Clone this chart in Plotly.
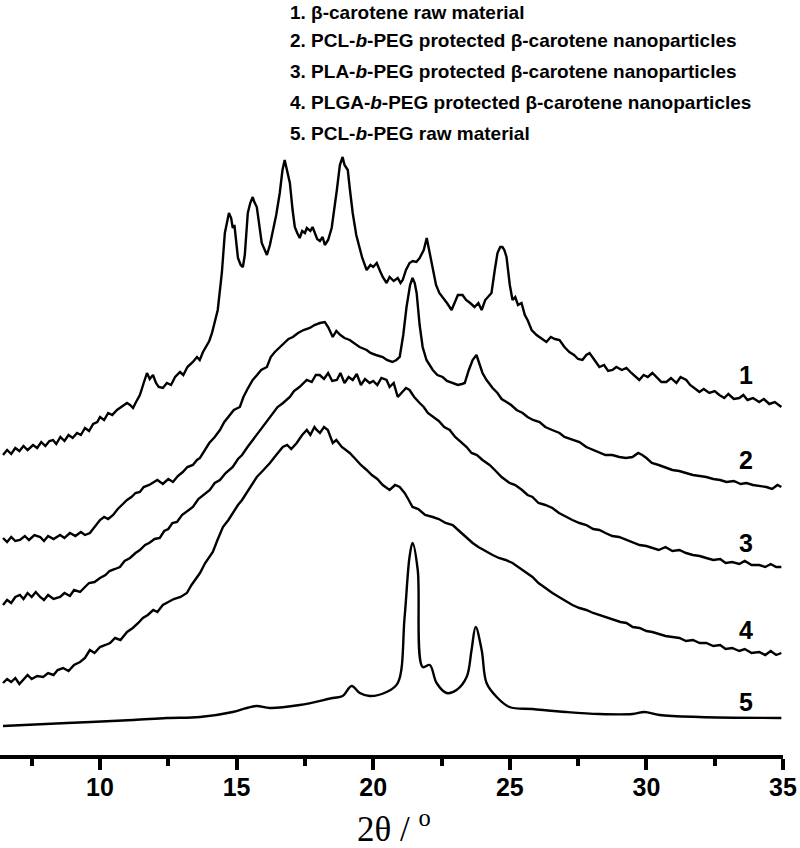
import plotly.graph_objects as go

# Each pattern: (2-theta in degrees, intensity in a.u., curves stacked with offsets)
pattern1 = [
    (6.45, 300), (6.6, 305), (6.75, 301), (6.9, 307), (7.05, 304), (7.2, 309), (7.35, 305), (7.55, 310),
    (7.7, 307), (7.85, 313), (8.0, 309), (8.15, 314), (8.28, 315), (8.4, 311), (8.55, 318), (8.7, 314),
    (8.85, 320), (9.0, 317), (9.16, 322), (9.3, 320), (9.45, 327), (9.6, 324), (9.75, 331), (9.9, 333),
    (10.0, 338), (10.15, 335), (10.3, 342), (10.45, 340), (10.62, 345), (10.8, 348), (10.99, 352),
    (11.1, 350), (11.21, 347), (11.3, 352), (11.46, 360), (11.6, 372), (11.72, 382), (11.82, 376),
    (11.94, 380), (12.05, 372), (12.15, 368), (12.30, 367), (12.45, 372), (12.6, 370), (12.75, 378),
    (12.93, 383), (13.05, 380), (13.2, 388), (13.40, 393), (13.55, 398), (13.65, 395), (13.77, 403),
    (13.9, 410), (14.0, 414), (14.10, 422), (14.2, 432), (14.31, 445), (14.46, 482), (14.57, 522),
    (14.72, 542), (14.8, 537), (14.86, 527), (14.92, 530), (15.05, 497), (15.15, 490), (15.23, 488),
    (15.3, 500), (15.41, 542), (15.5, 552), (15.59, 558), (15.65, 553), (15.74, 548), (15.82, 530),
    (15.92, 512), (16.0, 507), (16.11, 500), (16.22, 510), (16.33, 525), (16.45, 540), (16.58, 562),
    (16.68, 585), (16.76, 595), (16.85, 585), (16.95, 572), (17.05, 545), (17.13, 528), (17.22, 522),
    (17.31, 517), (17.4, 524), (17.5, 522), (17.57, 527), (17.7, 524), (17.78, 528), (17.86, 523),
    (17.95, 516), (18.05, 514), (18.15, 518), (18.23, 510), (18.35, 515), (18.48, 527), (18.58, 545),
    (18.67, 565), (18.78, 590), (18.88, 598), (18.95, 590), (19.07, 585), (19.15, 565), (19.25, 542),
    (19.38, 520), (19.51, 505), (19.6, 497), (19.76, 485), (19.9, 490), (20.0, 488), (20.13, 492),
    (20.25, 484), (20.35, 478), (20.49, 472), (20.6, 478), (20.75, 474), (20.90, 477), (21.0, 472),
    (21.08, 475), (21.2, 485), (21.33, 492), (21.45, 494), (21.58, 493), (21.70, 497), (21.85, 505),
    (21.96, 517), (22.05, 505), (22.18, 485), (22.3, 470), (22.42, 462), (22.54, 458), (22.7, 452),
    (22.87, 445), (22.98, 452), (23.1, 460), (23.27, 460), (23.4, 455), (23.55, 452), (23.71, 448),
    (23.85, 452), (23.97, 445), (24.1, 455), (24.2, 458), (24.33, 462), (24.45, 485), (24.55, 502),
    (24.65, 508), (24.73, 508), (24.8, 505), (24.88, 498), (25.0, 470), (25.10, 455), (25.2, 458),
    (25.3, 450), (25.43, 452), (25.55, 440), (25.65, 435), (25.8, 425), (25.98, 420), (26.15, 417),
    (26.34, 413), (26.5, 418), (26.65, 416), (26.82, 415), (27.0, 408), (27.18, 403), (27.35, 400),
    (27.5, 396), (27.66, 395), (27.8, 400), (27.92, 402), (28.1, 395), (28.28, 388), (28.45, 390),
    (28.6, 384), (28.76, 385), (28.9, 388), (29.1, 385), (29.27, 387), (29.45, 382), (29.6, 378),
    (29.74, 375), (29.9, 380), (30.05, 378), (30.22, 382), (30.4, 377), (30.55, 373), (30.73, 373),
    (30.9, 377), (31.1, 372), (31.25, 378), (31.46, 375), (31.6, 370), (31.8, 366), (31.94, 363),
    (32.1, 366), (32.3, 362), (32.5, 364), (32.67, 360), (32.85, 357), (33.0, 361), (33.2, 356),
    (33.40, 357), (33.55, 360), (33.7, 355), (33.9, 357), (34.13, 353), (34.3, 356), (34.5, 351),
    (34.7, 353), (34.94, 348),
]

pattern2 = [
    (6.45, 217), (6.6, 213), (6.75, 218), (6.9, 214), (7.07, 215), (7.25, 219), (7.4, 215), (7.6, 220),
    (7.81, 218), (7.95, 214), (8.1, 219), (8.3, 216), (8.54, 220), (8.7, 217), (8.9, 222), (9.1, 219),
    (9.3, 223), (9.45, 220), (9.63, 222), (9.8, 228), (10.0, 235), (10.15, 238), (10.3, 236), (10.48, 240),
    (10.65, 246), (10.8, 250), (10.99, 255), (11.15, 258), (11.3, 262), (11.46, 263), (11.6, 268),
    (11.8, 270), (11.94, 272), (12.1, 275), (12.3, 271), (12.5, 276), (12.67, 273), (12.85, 279),
    (13.03, 283), (13.2, 288), (13.4, 290), (13.55, 295), (13.66, 297), (13.85, 305), (14.0, 312),
    (14.2, 318), (14.39, 325), (14.55, 333), (14.75, 340), (14.9, 345), (15.12, 348), (15.25, 358),
    (15.4, 366), (15.59, 375), (15.75, 380), (15.9, 385), (16.11, 388), (16.25, 398), (16.4, 403),
    (16.58, 408), (16.75, 412), (16.9, 416), (17.06, 418), (17.25, 422), (17.45, 425), (17.68, 427),
    (17.85, 430), (18.05, 432), (18.23, 433), (18.35, 428), (18.52, 418), (18.65, 424), (18.8, 420),
    (18.95, 417), (19.14, 415), (19.3, 412), (19.5, 408), (19.76, 405), (19.9, 402), (20.1, 400),
    (20.35, 398), (20.5, 395), (20.7, 393), (20.85, 395), (20.97, 398), (21.1, 420), (21.22, 448),
    (21.35, 470), (21.44, 477), (21.52, 472), (21.59, 462), (21.7, 430), (21.81, 408), (21.95, 395),
    (22.05, 390), (22.18, 385), (22.35, 380), (22.54, 378), (22.7, 374), (22.91, 372), (23.1, 370),
    (23.25, 371), (23.35, 372), (23.5, 385), (23.64, 395), (23.78, 400), (23.9, 390), (24.0, 382),
    (24.15, 375), (24.37, 367), (24.55, 362), (24.7, 356), (24.88, 353), (25.05, 350), (25.25, 345),
    (25.47, 342), (25.65, 338), (25.85, 335), (26.09, 333), (26.3, 328), (26.55, 325), (26.82, 322),
    (27.0, 318), (27.25, 316), (27.55, 313), (27.8, 308), (28.05, 305), (28.28, 303), (28.5, 300),
    (28.75, 300), (29.01, 298), (29.25, 297), (29.49, 298), (29.7, 302), (29.85, 300), (30.0, 297),
    (30.2, 292), (30.45, 290), (30.73, 287), (30.95, 285), (31.2, 284), (31.46, 282), (31.7, 280),
    (31.95, 279), (32.19, 278), (32.45, 276), (32.7, 275), (32.93, 273), (33.2, 274), (33.45, 271),
    (33.66, 272), (33.9, 270), (34.15, 269), (34.39, 268), (34.6, 266), (34.8, 270), (34.94, 268),
]

pattern3 = [
    (6.45, 150), (6.6, 155), (6.75, 152), (6.9, 158), (7.07, 160), (7.2, 156), (7.35, 162), (7.5, 158),
    (7.65, 163), (7.81, 158), (7.95, 155), (8.1, 160), (8.3, 156), (8.54, 158), (8.7, 162), (8.9, 159),
    (9.05, 165), (9.27, 163), (9.45, 168), (9.6, 172), (9.8, 173), (10.0, 177), (10.2, 180), (10.35, 184),
    (10.55, 186), (10.73, 188), (10.9, 194), (11.1, 197), (11.3, 202), (11.46, 205), (11.65, 210),
    (11.8, 212), (12.0, 216), (12.19, 217), (12.35, 224), (12.5, 226), (12.65, 232), (12.82, 233),
    (13.0, 240), (13.2, 244), (13.40, 248), (13.6, 256), (13.8, 260), (14.02, 265), (14.2, 272),
    (14.39, 275), (14.6, 282), (14.86, 288), (15.05, 296), (15.2, 300), (15.4, 308), (15.59, 315),
    (15.8, 322), (16.0, 330), (16.15, 335), (16.33, 342), (16.5, 348), (16.7, 352), (16.95, 358),
    (17.1, 364), (17.3, 368), (17.57, 375), (17.75, 373), (17.9, 380), (18.04, 380), (18.2, 376),
    (18.35, 382), (18.5, 374), (18.67, 375), (18.8, 382), (18.95, 372), (19.1, 378), (19.25, 375),
    (19.4, 381), (19.55, 370), (19.7, 376), (19.87, 372), (20.0, 374), (20.15, 370), (20.3, 377),
    (20.49, 375), (20.6, 368), (20.75, 372), (20.90, 358), (21.05, 362), (21.2, 367), (21.33, 365),
    (21.5, 358), (21.70, 352), (21.85, 348), (22.0, 342), (22.18, 338), (22.4, 334), (22.6, 328),
    (22.80, 325), (23.0, 318), (23.2, 313), (23.42, 308), (23.6, 302), (23.8, 300), (24.0, 295),
    (24.26, 290), (24.45, 285), (24.7, 278), (24.99, 272), (25.2, 270), (25.45, 265), (25.65, 260),
    (25.83, 258), (26.05, 252), (26.3, 250), (26.56, 247), (26.8, 242), (27.05, 238), (27.29, 235),
    (27.55, 232), (27.8, 230), (28.05, 226), (28.28, 225), (28.5, 222), (28.75, 219), (29.0, 218),
    (29.27, 215), (29.5, 213), (29.75, 210), (30.0, 209), (30.22, 207), (30.45, 205), (30.7, 208),
    (30.95, 204), (31.21, 205), (31.45, 202), (31.7, 200), (31.95, 199), (32.19, 197), (32.45, 195),
    (32.7, 196), (32.9, 192), (33.14, 193), (33.4, 191), (33.6, 194), (33.85, 190), (34.13, 190),
    (34.35, 188), (34.55, 191), (34.75, 188), (34.94, 188),
]

pattern4 = [
    (6.45, 72), (6.6, 76), (6.75, 73), (6.9, 77), (7.05, 71), (7.18, 75), (7.35, 80), (7.5, 76),
    (7.7, 79), (7.92, 78), (8.1, 82), (8.3, 80), (8.45, 85), (8.65, 87), (8.85, 84), (9.05, 90),
    (9.27, 93), (9.45, 97), (9.63, 105), (9.8, 102), (10.0, 108), (10.2, 110), (10.37, 112), (10.55, 117),
    (10.75, 115), (10.99, 123), (11.2, 127), (11.4, 132), (11.57, 137), (11.75, 140), (11.95, 145),
    (12.1, 143), (12.30, 150), (12.5, 153), (12.7, 156), (12.95, 158), (13.18, 162), (13.35, 170),
    (13.5, 176), (13.66, 182), (13.85, 192), (14.0, 198), (14.13, 203), (14.3, 215), (14.50, 228),
    (14.7, 235), (14.86, 242), (15.05, 250), (15.2, 255), (15.37, 262), (15.55, 270), (15.74, 278),
    (15.95, 284), (16.1, 288), (16.22, 292), (16.45, 300), (16.69, 308), (16.85, 310), (17.0, 306),
    (17.20, 312), (17.4, 320), (17.57, 325), (17.7, 320), (17.85, 328), (17.93, 325), (18.05, 322),
    (18.2, 328), (18.34, 325), (18.45, 316), (18.52, 312), (18.65, 315), (18.85, 308), (19.0, 305),
    (19.14, 302), (19.35, 296), (19.55, 290), (19.76, 285), (19.95, 280), (20.15, 276), (20.35, 270),
    (20.60, 265), (20.8, 270), (20.97, 268), (21.15, 262), (21.3, 255), (21.44, 248), (21.65, 246),
    (21.9, 240), (22.18, 238), (22.4, 236), (22.65, 232), (22.91, 230), (23.15, 224), (23.4, 218),
    (23.64, 212), (23.85, 208), (24.1, 204), (24.37, 200), (24.6, 197), (24.85, 195), (25.10, 192),
    (25.35, 187), (25.6, 182), (25.83, 178), (26.05, 172), (26.3, 167), (26.56, 162), (26.8, 158),
    (27.05, 154), (27.29, 150), (27.55, 147), (27.8, 145), (28.05, 142), (28.28, 140), (28.55, 137),
    (28.8, 135), (29.05, 133), (29.27, 132), (29.5, 128), (29.75, 127), (30.0, 124), (30.22, 123),
    (30.45, 121), (30.7, 119), (30.95, 118), (31.21, 117), (31.45, 114), (31.7, 115), (31.95, 112),
    (32.19, 112), (32.45, 109), (32.7, 110), (32.9, 106), (33.14, 107), (33.4, 104), (33.6, 106),
    (33.85, 102), (34.13, 103), (34.35, 100), (34.55, 104), (34.75, 100), (34.94, 102),
]

pattern5 = [
    (6.45, 29), (8.79, 32), (11.21, 35), (12.45, 37), (13.66, 38), (14.86, 43), (15.37, 47), (15.74, 49),
    (16.22, 47), (17.31, 50), (18.52, 57), (18.88, 59), (19.21, 69), (19.51, 62), (19.87, 59), (20.49, 63),
    (20.90, 72), (21.15, 138), (21.33, 198), (21.44, 212), (21.63, 185), (21.81, 88), (22.07, 90),
    (22.32, 72), (22.69, 62), (23.05, 65), (23.42, 78), (23.60, 105), (23.75, 128), (23.97, 105),
    (24.15, 72), (24.52, 58), (24.99, 48), (25.83, 46), (27.07, 43), (28.28, 41), (29.49, 41),
    (29.93, 43), (30.48, 40), (31.94, 38), (34.94, 37),
]

legend_lines = [
    "1. β-carotene raw material",
    "2. PCL-<i>b</i>-PEG protected β-carotene nanoparticles",
    "3. PLA-<i>b</i>-PEG protected β-carotene nanoparticles",
    "4. PLGA-<i>b</i>-PEG protected β-carotene nanoparticles",
    "5. PCL-<i>b</i>-PEG raw material",
]
curve_labels = ["1", "2", "3", "4", "5"]
label_x = [33.66, 33.66, 33.66, 33.66, 33.66]
label_y = [380, 295, 212, 125, 53]
major_ticks = [10, 15, 20, 25, 30, 35]
minor_ticks = [7.5, 12.5, 17.5, 22.5, 27.5, 32.5]

fig = go.Figure()
series = [(pattern1, "linear"), (pattern2, "linear"), (pattern3, "linear"),
          (pattern4, "linear"), (pattern5, "spline")]
for pts, shape in series:
    fig.add_trace(go.Scatter(x=[p[0] for p in pts], y=[p[1] for p in pts], mode="lines",
                             line=dict(color="black", width=2.4, shape=shape),
                             showlegend=False, hoverinfo="skip"))

legend_y = [0.984, 0.946, 0.905, 0.864, 0.823]
for txt, yy in zip(legend_lines, legend_y):
    fig.add_annotation(text=txt, xref="paper", yref="paper", x=0.368, y=yy,
                       xanchor="left", yanchor="middle", showarrow=False,
                       font=dict(family="Liberation Sans, Arial", size=19, color="black", weight="bold"))

for lab, lx, ly in zip(curve_labels, label_x, label_y):
    fig.add_annotation(text=lab, x=lx, y=ly, xref="x", yref="y", showarrow=False,
                       xanchor="center", yanchor="middle",
                       font=dict(family="Liberation Sans, Arial", size=25, color="black", weight="bold"))

fig.add_annotation(text="2θ / <sup>o</sup>", xref="paper", yref="paper", x=0.503, y=-0.095,
                   xanchor="center", yanchor="middle", showarrow=False,
                   font=dict(family="Liberation Serif, Times New Roman", size=35, color="black"))

fig.update_layout(
    width=800, height=848,
    margin=dict(l=0, r=17, t=0, b=93),
    paper_bgcolor="white", plot_bgcolor="white",
    xaxis=dict(range=[6.34, 35.0], showline=True, linewidth=4, linecolor="black",
               ticks="outside", ticklen=11, tickwidth=3.5, tickcolor="black",
               tickvals=major_ticks, showgrid=False, zeroline=False, ticklabelstandoff=-4,
               tickfont=dict(family="Liberation Sans, Arial", size=25, color="black", weight="bold"),
               minor=dict(tickvals=minor_ticks, ticks="outside",
                          ticklen=7, tickwidth=3.5, tickcolor="black", showgrid=False)),
    yaxis=dict(range=[0, 755], visible=False, showgrid=False, zeroline=False),
)

fig.write_html("out.html", config={"displayModeBar": False},
               post_script="document.body.style.margin='0px';")
